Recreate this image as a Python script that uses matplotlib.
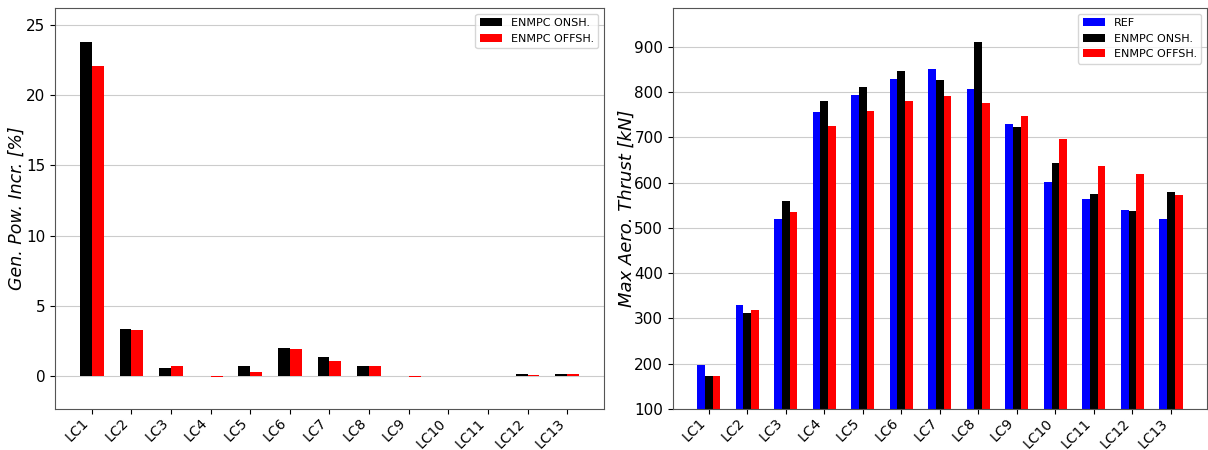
import matplotlib
matplotlib.use('Agg')
import matplotlib.pyplot as plt
import numpy as np

cases = ['LC1', 'LC2', 'LC3', 'LC4', 'LC5', 'LC6', 'LC7', 'LC8', 'LC9', 'LC10', 'LC11', 'LC12', 'LC13']

# generated power increase [%]
pow_onsh = [23.8, 3.35, 0.57, 0.02, 0.75, 1.97, 1.38, 0.71, 0.0, 0.0, 0.03, 0.12, 0.15]
pow_offsh = [22.1, 3.3, 0.75, -0.05, 0.28, 1.92, 1.07, 0.71, -0.08, 0.0, 0.03, 0.08, 0.15]

# max aero thrust [kN]
thr_ref = [197, 330, 519, 755, 794, 829, 851, 806, 729, 602, 563, 539, 519]
thr_onsh = [172, 311, 560, 780, 810, 847, 826, 911, 722, 643, 574, 538, 579]
thr_offsh = [173, 319, 534, 725, 757, 779, 791, 775, 747, 697, 637, 619, 573]

x = np.arange(len(cases))

fig = plt.figure(figsize=(12.08, 4.5), dpi=100)

#plot1
ax1 = fig.add_axes([0.0455, 0.091, 0.4545, 0.891])
w = 0.3
ax1.bar(x - w/2, pow_onsh, w, color='black', label='ENMPC ONSH.')
ax1.bar(x + w/2, pow_offsh, w, color='red', label='ENMPC OFFSH.')
ax1.set_xticks(x)
ax1.set_xticklabels(cases, rotation=45, ha='right', fontsize=10)
ax1.tick_params(axis='x', pad=1.5)
ax1.tick_params(axis='y', labelsize=11)
ax1.set_ylim(-2.35, 26.2)
ax1.set_ylabel('Gen. Pow. Incr. [%]', fontsize=12.5, fontstyle='italic', labelpad=0)
ax1.grid(axis='y', color='#cccccc')
ax1.set_axisbelow(True)
ax1.legend(loc='upper right', fontsize=8)

#plot2
ax2 = fig.add_axes([0.557, 0.091, 0.442, 0.891])
w = 0.2
ax2.bar(x - w, thr_ref, w, color='blue', label='REF')
ax2.bar(x, thr_onsh, w, color='black', label='ENMPC ONSH.')
ax2.bar(x + w, thr_offsh, w, color='red', label='ENMPC OFFSH.')
ax2.set_xticks(x)
ax2.set_xticklabels(cases, rotation=45, ha='right', fontsize=10)
ax2.tick_params(axis='x', pad=1.5)
ax2.tick_params(axis='y', labelsize=11)
ax2.set_ylim(100, 985)
ax2.set_ylabel('Max Aero. Thrust [kN]', fontsize=13, fontstyle='italic', labelpad=-1.5)
ax2.grid(axis='y', color='#cccccc')
ax2.set_axisbelow(True)
ax2.legend(loc='upper right', fontsize=8)

for ax in (ax1, ax2):
    for s in ax.spines.values():
        s.set_color('#555555')

fig.savefig('out.png', dpi=100)
